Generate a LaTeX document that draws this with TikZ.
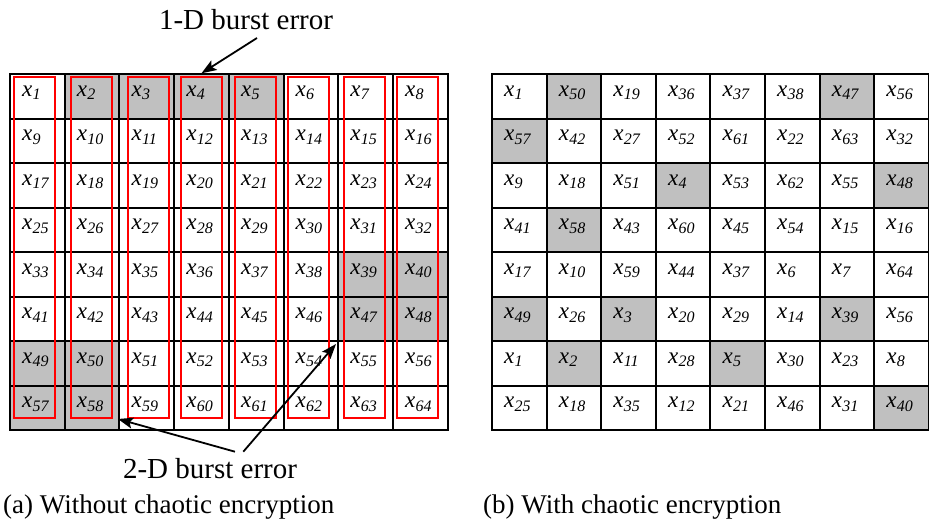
\documentclass[tikz,border=0pt]{standalone}
\usepackage{fontspec}
\setmainfont{Liberation Serif}
\usetikzlibrary{arrows.meta}
\definecolor{errgray}{RGB}{192,192,192}
% italic x with an italic index
\newcommand\cellx[1]{{\fontsize{23}{23}\selectfont\itshape x}\kern0.3pt\raisebox{-3.5pt}{\fontsize{16}{16}\selectfont\itshape #1}}

\begin{document}
\begin{tikzpicture}[x=1pt,y=-1pt,
  cell/.style={draw=black, line width=2pt, minimum width=54.7pt,
    minimum height=44.5pt, inner sep=0pt, anchor=north west},
  hit0/.style={fill=white},
  hit1/.style={fill=errgray},
  ctext/.style={anchor=base west, inner sep=0pt},
  redbox/.style={draw=red, line width=1.8pt, minimum width=41pt,
    minimum height=341pt, inner sep=0pt},
  arr/.style={line width=1.8pt, -{Stealth[length=15pt,width=11pt,inset=3pt]}},
  lbl/.style={font=\fontsize{27}{27}\selectfont, inner sep=0pt},
  bigl/.style={font=\fontsize{29}{29}\selectfont, inner sep=0pt}
]
\useasboundingbox (0,0) rectangle (929,527);

% left grid: index/erroneous flag
\foreach \row [count=\r] in {
  {1/0,2/1,3/1,4/1,5/1,6/0,7/0,8/0},
  {9/0,10/0,11/0,12/0,13/0,14/0,15/0,16/0},
  {17/0,18/0,19/0,20/0,21/0,22/0,23/0,24/0},
  {25/0,26/0,27/0,28/0,29/0,30/0,31/0,32/0},
  {33/0,34/0,35/0,36/0,37/0,38/0,39/1,40/1},
  {41/0,42/0,43/0,44/0,45/0,46/0,47/1,48/1},
  {49/1,50/1,51/0,52/0,53/0,54/0,55/0,56/0},
  {57/1,58/1,59/0,60/0,61/0,62/0,63/0,64/0}} {
  \foreach \n/\g [count=\c] in \row {
    \pgfmathsetmacro\xx{9+(\c-1)*54.7}
    \pgfmathsetmacro\yy{73.3+(\r-1)*44.5}
    \node[cell, hit\g] (L-\r-\c) at (\xx,\yy) {};
  }
}

% right grid after chaotic scrambling
\foreach \row [count=\r] in {
  {1/0,50/1,19/0,36/0,37/0,38/0,47/1,56/0},
  {57/1,42/0,27/0,52/0,61/0,22/0,63/0,32/0},
  {9/0,18/0,51/0,4/1,53/0,62/0,55/0,48/1},
  {41/0,58/1,43/0,60/0,45/0,54/0,15/0,16/0},
  {17/0,10/0,59/0,44/0,37/0,6/0,7/0,64/0},
  {49/1,26/0,3/1,20/0,29/0,14/0,39/1,56/0},
  {1/0,2/1,11/0,28/0,5/1,30/0,23/0,8/0},
  {25/0,18/0,35/0,12/0,21/0,46/0,31/0,40/1}} {
  \foreach \n/\g [count=\c] in \row {
    \pgfmathsetmacro\xx{491+(\c-1)*54.6}
    \pgfmathsetmacro\yy{73.3+(\r-1)*44.5}
    \node[cell, minimum width=54.6pt, hit\g] (R-\r-\c) at (\xx,\yy) {};
    \node[ctext] (Rt-\r-\c) at (\xx+13,\yy+22.8) {\cellx{\n}};
  }
}

% column groupings of the left grid
\foreach \cx [count=\c] in {34.5,91.3,148.3,201.7,255.3,308.7,364.2,417.3}
  \node[redbox] (col-\c) at (\cx,247.8) {};

% left grid entries
\foreach \r in {1,...,8}
  \foreach \c in {1,...,8} {
    \pgfmathtruncatemacro\n{(\r-1)*8+\c}
    \pgfmathsetmacro\xx{9+(\c-1)*54.7}
    \pgfmathsetmacro\yy{73.3+(\r-1)*44.5}
    \node[ctext] (Lt-\r-\c) at (\xx+13,\yy+22.8) {\cellx{\n}};
  }

% burst error labels and pointers
\node[bigl, anchor=base] (one) at (246,29.3) {1-D burst error};
\coordinate (oneS) at (257,38);
\draw[arr] (oneS) -- (L-1-4.north);

\node[bigl, anchor=base] (two) at (210,478) {2-D burst error};
\coordinate (twoA) at (235,451.7);
\coordinate (twoB) at (243.3,451.7);
\coordinate (tipA) at (118,419);
\coordinate (tipB) at (336,344);
\draw[arr] (twoA) -- (tipA);
\draw[arr] (twoB) -- (tipB);

% captions
\node[lbl, anchor=base west] (capa) at (3,513) {(a) Without chaotic encryption};
\node[lbl, anchor=base west] (capb) at (483,513) {(b) With chaotic encryption};
\end{tikzpicture}
\end{document}
